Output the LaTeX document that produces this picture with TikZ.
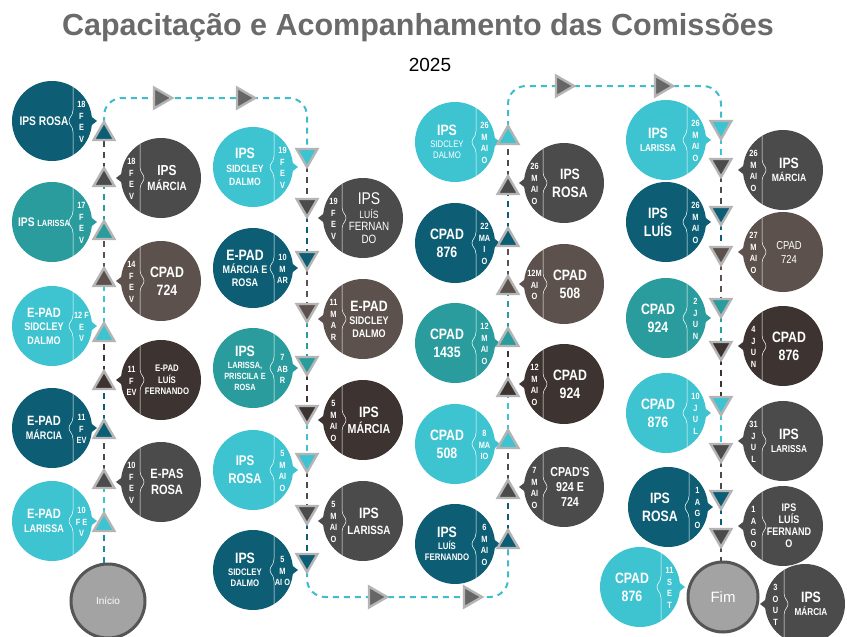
\documentclass[tikz,border=0pt]{standalone}
\usepackage{fontspec}
\setmainfont{Liberation Sans}
\newfontfamily\condf[FakeStretch=0.82]{Liberation Sans}
\usetikzlibrary{shapes.geometric}
\definecolor{cDT}{HTML}{0D5E74}
\definecolor{cTE}{HTML}{2B9C9D}
\definecolor{cCY}{HTML}{3EC4D0}
\definecolor{cDG}{HTML}{4B4B4B}
\definecolor{cBR}{HTML}{5C514D}
\definecolor{cDB}{HTML}{3D3431}
\definecolor{cLN}{HTML}{3FBDCA}
\definecolor{cTB}{HTML}{B4B4B4}
\definecolor{cTI}{HTML}{6A6A6A}
\definecolor{cGR}{HTML}{A3A3A3}
\definecolor{cRG}{HTML}{555555}
\tikzset{
  bub/.style={circle, minimum size=80pt, inner sep=0pt, outer sep=0pt},
  maintxt/.style={text=white, align=center, inner sep=0pt},
  datetxt/.style={text=white, align=center, font=\condf\bfseries\fontsize{9}{11.5}\selectfont, inner sep=0pt},
  divline/.style={draw=white, line width=0.5pt},
  tri/.style={regular polygon, regular polygon sides=3, minimum size=24pt, inner sep=0pt, draw=cTB, line width=2.4pt},
  tridn/.style={tri, shape border rotate=180},
  trirt/.style={tri, shape border rotate=-90, fill=cDG!85},
  flow/.style={dash pattern=on 6pt off 5pt, line width=2pt},
  endc/.style={circle, minimum size=74pt, inner sep=0pt, fill=cGR, draw=cRG, line width=3pt, text=white}
}
% #1 name, #2 x, #3 y, #4 colour, #5 font of the main text, #6 main text, #7 date
\newcommand\bubL[7]{%
 \begin{scope}[shift={(#2,#3)}]
 \fill[#4] (36,-7) -- (45,0) -- (36,7) -- cycle;
 \node[bub, fill=#4] (#1) at (0,0) {};
 \draw[divline] (21,-34) -- (21,-11) .. controls (21,-5) and (17,-4) .. (17,0) .. controls (17,4) and (21,5) .. (21,11) -- (21,34);
 \node[datetxt] (#1d) at (29.5,1) {#7};
 \node[maintxt, font=\condf\bfseries#5] (#1m) at (-8,0) {#6};
 \end{scope}}
\newcommand\bubR[7]{%
 \begin{scope}[shift={(#2,#3)}]
 \fill[#4] (-36,-7) -- (-45,0) -- (-36,7) -- cycle;
 \node[bub, fill=#4] (#1) at (0,0) {};
 \draw[divline] (-21,-34) -- (-21,-11) .. controls (-21,-5) and (-17,-4) .. (-17,0) .. controls (-17,4) and (-21,5) .. (-21,11) -- (-21,34);
 \node[datetxt] (#1d) at (-29.5,1) {#7};
 \node[maintxt, font=\condf\bfseries#5] (#1m) at (6,0) {#6};
 \end{scope}}
\newcommand\sizeA[1]{{\fontsize{15}{15}\selectfont #1}}
\newcommand\fs[2]{\fontsize{#1}{#2}\selectfont}
\begin{document}
\begin{tikzpicture}[x=1pt,y=-1pt]
\useasboundingbox (0,0) rectangle (847,637);
\fill[white] (0,0) rectangle (847,637);
\node[font=\bfseries\fontsize{30.5}{32}\selectfont, text=cTI] (title) at (418,28) {Capacitação e Acompanhamento das Comissões};
\node[font=\fontsize{19}{20}\selectfont] (year) at (430,65) {2025};

% coordinates of the flow
\coordinate (c1a) at (104,525); \coordinate (c1b) at (104,482); \coordinate (c1c) at (104,432);
\coordinate (c1d) at (104,383); \coordinate (c1e) at (104,335); \coordinate (c1f) at (104,280);
\coordinate (c1g) at (104,233); \coordinate (c1h) at (104,180); \coordinate (c1i) at (104,134);
\coordinate (h1a) at (104,98); \coordinate (h1b) at (307,98);
\coordinate (c2a) at (307,155); \coordinate (c2b) at (307,205); \coordinate (c2c) at (307,258);
\coordinate (c2d) at (307,310); \coordinate (c2e) at (307,363); \coordinate (c2f) at (307,412);
\coordinate (c2g) at (307,460); \coordinate (c2h) at (307,512); \coordinate (c2i) at (307,560);
\coordinate (h2a) at (307,597); \coordinate (h2b) at (508,597);
\coordinate (c3a) at (508,542); \coordinate (c3b) at (508,492); \coordinate (c3c) at (508,442);
\coordinate (c3d) at (508,390); \coordinate (c3e) at (508,340); \coordinate (c3f) at (508,288);
\coordinate (c3g) at (508,240); \coordinate (c3h) at (508,188); \coordinate (c3i) at (508,138);
\coordinate (h3a) at (508,86); \coordinate (h3b) at (721,86);
\coordinate (c4a) at (721,127); \coordinate (c4b) at (721,165); \coordinate (c4c) at (721,213);
\coordinate (c4d) at (721,253); \coordinate (c4e) at (721,305); \coordinate (c4f) at (721,348);
\coordinate (c4g) at (721,403); \coordinate (c4h) at (721,450); \coordinate (c4i) at (721,497);
\coordinate (c4j) at (721,535);

\node[endc, font=\fontsize{10}{12}\selectfont] (inicio) at (108,601) {Início};
\node[endc, minimum size=70pt, font=\fontsize{15}{16}\selectfont] (fim) at (723,597) {Fim};

% flow lines
\draw[flow, draw=cDT!60!cCY] (inicio.north -| c1a) -- (c1a);
\draw[flow, draw=cCY] (c1a) -- (c1b);
\draw[flow, draw=cDG] (c1b) -- (c1c);
\draw[flow, draw=cDT] (c1c) -- (c1d);
\draw[flow, draw=cDB] (c1d) -- (c1e);
\draw[flow, draw=cCY] (c1e) -- (c1f);
\draw[flow, draw=cBR] (c1f) -- (c1g);
\draw[flow, draw=cTE] (c1g) -- (c1h);
\draw[flow, draw=cDG] (c1h) -- (c1i);
\draw[flow, draw=cLN, rounded corners=18pt] (c1i) -- (h1a) -- (h1b) -- (c2a);
\draw[flow, draw=cDG] (c2a) -- (c2b);
\draw[flow, draw=cDT] (c2b) -- (c2c);
\draw[flow, draw=cBR] (c2c) -- (c2d);
\draw[flow, draw=cTE] (c2d) -- (c2e);
\draw[flow, draw=cDB] (c2e) -- (c2f);
\draw[flow, draw=cCY] (c2f) -- (c2g);
\draw[flow, draw=cDG] (c2g) -- (c2h);
\draw[flow, draw=cDT] (c2h) -- (c2i);
\draw[flow, draw=cLN, rounded corners=18pt] (c2i) -- (h2a) -- (h2b) -- (c3a);
\draw[flow, draw=cDT] (c3a) -- (c3b);
\draw[flow, draw=cDG] (c3b) -- (c3c);
\draw[flow, draw=cCY] (c3c) -- (c3d);
\draw[flow, draw=cDB] (c3d) -- (c3e);
\draw[flow, draw=cTE] (c3e) -- (c3f);
\draw[flow, draw=cBR] (c3f) -- (c3g);
\draw[flow, draw=cDT] (c3g) -- (c3h);
\draw[flow, draw=cDG] (c3h) -- (c3i);
\draw[flow, draw=cLN, rounded corners=18pt] (c3i) -- (h3a) -- (h3b) -- (c4a);
\draw[flow, draw=cCY] (c4a) -- (c4b);
\draw[flow, draw=cDG] (c4b) -- (c4c);
\draw[flow, draw=cDT] (c4c) -- (c4d);
\draw[flow, draw=cBR] (c4d) -- (c4e);
\draw[flow, draw=cTE] (c4e) -- (c4f);
\draw[flow, draw=cDB] (c4f) -- (c4g);
\draw[flow, draw=cCY] (c4g) -- (c4h);
\draw[flow, draw=cDG] (c4h) -- (c4i);
\draw[flow, draw=cDT] (c4i) -- (c4j);
\draw[flow, draw=cDG] (c4j) -- (fim.north -| c4j);

% column 1
\bubL{b1}{52}{121}{cDT}{\fs{12.5}{14}}{IPS ROSA}{18\\F\\E\\V}
\bubL{b2}{52}{222}{cTE}{\fs{12.5}{14}}{IPS {\fs{9}{10}LARISSA}}{17\\F\\E\\V}
\bubL{b3}{52}{326}{cCY}{\fs{11}{13.5}}{{\fs{13.5}{14}E-PAD}\\SIDCLEY\\DALMO}{12 F\\E\\V}
\bubL{b4}{52}{428}{cDT}{\fs{11}{14}}{{\fs{13.5}{14}E-PAD}\\MÁRCIA}{11\\F\\EV}
\bubL{b5}{52}{521}{cCY}{\fs{11}{14}}{{\fs{13.5}{14}E-PAD}\\LARISSA}{10\\F E\\V}
\bubR{b6}{161}{178}{cDG}{\fs{12}{15}}{{\fs{14.5}{14}IPS}\\MÁRCIA}{18\\F\\E\\V}
\bubR{b7}{161}{281}{cBR}{\fs{15}{18}}{CPAD\\724}{14\\F\\E\\V}
\bubR{b8}{161}{380}{cDB}{\fs{9.5}{11.5}}{E-PAD\\LUÍS\\FERNANDO}{11\\F\\EV}
\bubR{b9}{161}{482}{cDG}{\fs{13.5}{16}}{E-PAS\\ROSA}{10\\F\\E\\V}
% column 2
\bubL{b10}{253}{167}{cCY}{\fs{10.5}{13}}{\sizeA{IPS}\\[1pt]SIDCLEY\\DALMO}{19\\F\\E\\V}
\bubL{b11}{253}{268}{cDT}{\fs{11}{13}}{\sizeA{E-PAD}\\MÁRCIA E\\ROSA}{10\\M\\AR}
\bubL{b12}{253}{368}{cTE}{\fs{9}{11}}{\sizeA{IPS}\\[1pt]LARISSA,\\PRISCILA E\\ROSA}{7\\AB\\R}
\bubL{b13}{253}{470}{cCY}{\fs{14}{18}}{IPS\\ROSA}{5\\M\\AI\\O}
\bubL{b14}{253}{570}{cDT}{\fs{9.5}{11}}{\sizeA{IPS}\\[1pt]SIDCLEY\\DALMO}{5\\M\\AI O}
\bubR{b15}{363}{218}{cDG}{\mdseries\fs{12}{12.5}}{{\fs{17}{17}IPS}\\[1pt]{\fs{10.5}{11}LUÍS}\\FERNAN\\DO}{19\\F\\E\\V}
\bubR{b16}{363}{319}{cBR}{\fs{11}{13}}{\sizeA{E-PAD}\\SIDCLEY\\DALMO}{11\\M\\A\\R}
\bubR{b17}{363}{420}{cDB}{\fs{13}{16}}{\sizeA{IPS}\\MÁRCIA}{5\\M\\AI\\O}
\bubR{b18}{363}{521}{cDG}{\fs{12}{16}}{\sizeA{IPS}\\LARISSA}{5\\M\\AI\\O}
% column 3
\bubL{b19}{455}{142}{cCY}{\mdseries\fs{9.5}{11}}{{\bfseries\fs{15}{15}IPS}\\[1pt]SIDCLEY\\DALMO}{26\\M\\AI\\O}
\bubL{b20}{455}{243}{cDT}{\fs{15}{18}}{CPAD\\876}{22\\MA\\I\\O}
\bubL{b21}{455}{343}{cTE}{\fs{15}{18}}{CPAD\\1435}{12\\M\\AI\\O}
\bubL{b22}{455}{444}{cCY}{\fs{15}{18}}{CPAD\\508}{8\\MA\\IO}
\bubL{b23}{455}{544}{cDT}{\fs{9.5}{11}}{\sizeA{IPS}\\[1pt]LUÍS\\FERNANDO}{6\\M\\AI\\O}
\bubR{b24}{564}{183}{cDG}{\fs{15}{18}}{IPS\\ROSA}{26\\M\\AI\\O}
\bubR{b25}{564}{284}{cBR}{\fs{15}{18}}{CPAD\\508}{12M\\AI\\O}
\bubR{b26}{564}{384}{cDB}{\fs{15}{18}}{CPAD\\924}{12\\M\\AI\\O}
\bubR{b27}{564}{487}{cDG}{\fs{13}{15}}{CPAD'S\\924 E\\724}{7\\M\\AI\\O}
% column 4
\bubL{b28}{666}{140}{cCY}{\fs{10}{13}}{\sizeA{IPS}\\LARISSA}{26\\M\\AI\\O}
\bubL{b29}{666}{222}{cDT}{\fs{15}{18}}{IPS\\LUÍS}{26\\M\\AI\\O}
\bubL{b30}{666}{318}{cTE}{\fs{15}{18}}{CPAD\\924}{2\\J\\U\\N}
\bubL{b31}{666}{413}{cCY}{\fs{15}{18}}{CPAD\\876}{10\\J\\U\\L}
\bubL{b32}{668}{507}{cDT}{\fs{15}{18}}{IPS\\ROSA}{1\\A\\G\\O}
\bubL{b33}{640}{587}{cCY}{\fs{15}{18}}{CPAD\\876}{11\\S\\E\\T}
\bubR{b34}{783}{170}{cDG}{\fs{10.5}{13}}{\sizeA{IPS}\\MÁRCIA}{26\\M\\AI\\O}
\bubR{b35}{783}{252}{cBR}{\mdseries\fs{11.5}{14}}{CPAD\\724}{27\\M\\AI\\O}
\bubR{b36}{783}{346}{cDB}{\fs{15}{18}}{CPAD\\876}{4\\J\\U\\N}
\bubR{b37}{783}{441}{cDG}{\fs{10}{13}}{\sizeA{IPS}\\LARISSA}{31\\J\\U\\L}
\bubR{b38}{783}{526}{cDG}{\fs{11}{12}}{IPS\\LUÍS\\FERNAND\\O}{1\\A\\G\\O}
\bubR{b39}{805}{604}{cDG}{\fs{10}{13}}{\sizeA{IPS}\\MÁRCIA}{3\\O\\U\\T}

% triangles
\node[tri, fill=cCY] (t1a) at (c1a) {}; \node[tri, fill=cDG] (t1b) at (c1b) {};
\node[tri, fill=cDT] (t1c) at (c1c) {}; \node[tri, fill=cDB] (t1d) at (c1d) {};
\node[tri, fill=cCY] (t1e) at (c1e) {}; \node[tri, fill=cBR] (t1f) at (c1f) {};
\node[tri, fill=cTE] (t1g) at (c1g) {}; \node[tri, fill=cDG] (t1h) at (c1h) {};
\node[tri, fill=cDT] (t1i) at (c1i) {};
\node[tridn, fill=cCY] (t2a) at (c2a) {}; \node[tridn, fill=cDG] (t2b) at (c2b) {};
\node[tridn, fill=cDT] (t2c) at (c2c) {}; \node[tridn, fill=cBR] (t2d) at (c2d) {};
\node[tridn, fill=cTE] (t2e) at (c2e) {}; \node[tridn, fill=cDB] (t2f) at (c2f) {};
\node[tridn, fill=cCY] (t2g) at (c2g) {}; \node[tridn, fill=cDG] (t2h) at (c2h) {};
\node[tridn, fill=cDT] (t2i) at (c2i) {};
\node[tri, fill=cDT] (t3a) at (c3a) {}; \node[tri, fill=cDG] (t3b) at (c3b) {};
\node[tri, fill=cCY] (t3c) at (c3c) {}; \node[tri, fill=cDB] (t3d) at (c3d) {};
\node[tri, fill=cTE] (t3e) at (c3e) {}; \node[tri, fill=cBR] (t3f) at (c3f) {};
\node[tri, fill=cDT] (t3g) at (c3g) {}; \node[tri, fill=cDG] (t3h) at (c3h) {};
\node[tri, fill=cCY] (t3i) at (c3i) {};
\node[tridn, fill=cCY] (t4a) at (c4a) {}; \node[tridn, fill=cDG] (t4b) at (c4b) {};
\node[tridn, fill=cDT] (t4c) at (c4c) {}; \node[tridn, fill=cBR] (t4d) at (c4d) {};
\node[tridn, fill=cTE] (t4e) at (c4e) {}; \node[tridn, fill=cDB] (t4f) at (c4f) {};
\node[tridn, fill=cCY] (t4g) at (c4g) {}; \node[tridn, fill=cDG] (t4h) at (c4h) {};
\node[tridn, fill=cDT] (t4i) at (c4i) {}; \node[tridn, fill=cDG] (t4j) at (c4j) {};
% arrows on the horizontal runs
\node[trirt] (ar1) at (160,98) {}; \node[trirt] (ar2) at (243,98) {};
\node[trirt] (ar3) at (375,597) {}; \node[trirt] (ar4) at (470,597) {};
\node[trirt] (ar5) at (562,86) {}; \node[trirt] (ar6) at (661,86) {};
\end{tikzpicture}
\end{document}
